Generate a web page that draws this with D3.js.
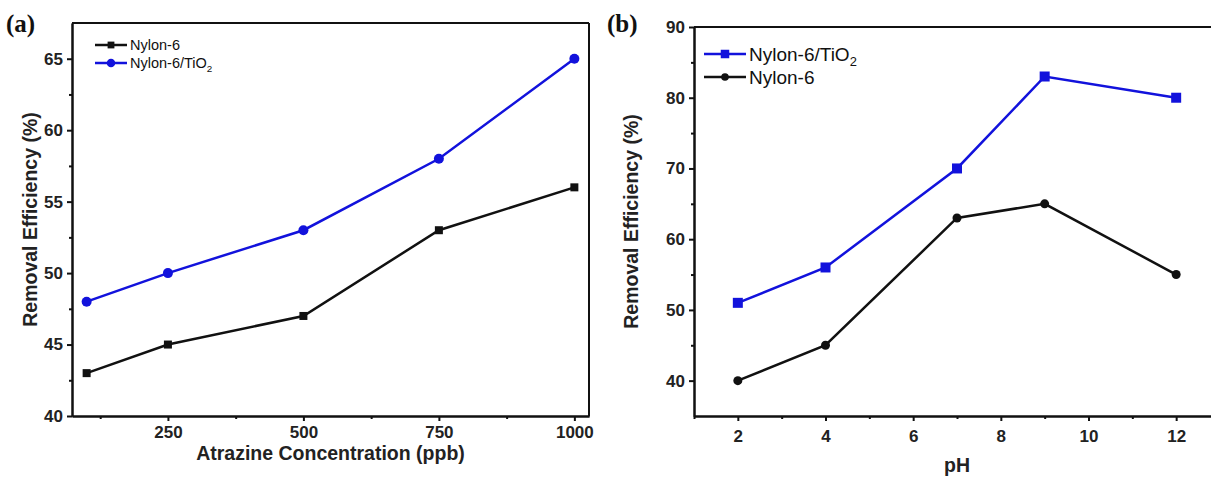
<!DOCTYPE html>
<html lang="en">
<head>
    <meta charset="UTF-8">
    <script src="https://d3js.org/d3.v7.min.js"></script>
    <style>
        body {margin: 0; background-color: #ffffff}
        svg {display: block; font-family: "Liberation Sans", Arial, sans-serif;}
    </style>
</head>
<body>
<svg class="chart"></svg>
<script type="text/javascript">
    // panel (a): removal vs atrazine concentration
    let conc = [100, 250, 500, 750, 1000];
    let nylon_a = [43, 45, 47, 53, 56];
    let tio2_a = [48, 50, 53, 58, 65];
    let conc_ticks = [250, 500, 750, 1000];
    let conc_minor = [125, 375, 625, 875];
    let eff_a_ticks = [40, 45, 50, 55, 60, 65];
    let eff_a_minor = [42.5, 47.5, 52.5, 57.5, 62.5];

    // panel (b): removal vs pH
    let ph = [2, 4, 7, 9, 12];
    let tio2_b = [51, 56, 70, 83, 80];
    let nylon_b = [40, 45, 63, 65, 55];
    let ph_ticks = [2, 4, 6, 8, 10, 12];
    let ph_minor = [1, 3, 5, 7, 9, 11];
    let eff_b_ticks = [40, 50, 60, 70, 80, 90];
    let eff_b_minor = [45, 55, 65, 75, 85];

    let blue = '#1212dc';
    let width = 1211, height = 477;

    var svg = d3.select('.chart').attr('width', width).attr('height', height);

    function label(g, x, y, parts, size) {
        let t = g.append('text').attr('x', x).attr('y', y)
            .attr('font-size', size).attr('fill', '#111');
        t.append('tspan').text(parts[0]);
        if (parts.length > 1) {
            t.append('tspan').attr('font-size', size * 0.68).attr('dy', size * 0.25).text(parts[1]);
        }
    }

    function marker(g, shape, x, y, size, color) {
        if (shape === 'square') {
            g.append('rect').attr('x', x - size / 2).attr('y', y - size / 2)
                .attr('width', size).attr('height', size).attr('fill', color);
        } else {
            g.append('circle').attr('cx', x).attr('cy', y).attr('r', size / 2).attr('fill', color);
        }
    }

    function panel(cfg) {
        let g = svg.append('g');
        let x = d3.scaleLinear().domain(cfg.xdom).range(cfg.xr);
        let y = d3.scaleLinear().domain(cfg.ydom).range(cfg.yr);

        // frame
        g.append('line').attr('x1', cfg.xr[0]).attr('x2', cfg.xr[1])
            .attr('y1', cfg.yr[1]).attr('y2', cfg.yr[1]).attr('stroke', '#111').attr('stroke-width', 2);
        g.append('line').attr('x1', cfg.xr[1]).attr('x2', cfg.xr[1])
            .attr('y1', cfg.yr[0]).attr('y2', cfg.yr[1]).attr('stroke', '#111').attr('stroke-width', 2);

        g.append('g').attr('transform', 'translate(0,' + cfg.yr[0] + ')')
            .call(d3.axisBottom(x).tickValues(cfg.xticks).tickFormat(d3.format('d'))
                .tickSize(5).tickSizeOuter(0).tickPadding(cfg.xpad));
        g.append('g').attr('transform', 'translate(0,' + cfg.yr[0] + ')')
            .call(d3.axisBottom(x).tickValues(cfg.xminor).tickSize(3).tickSizeOuter(0).tickFormat(''));
        g.append('g').attr('transform', 'translate(' + cfg.xr[0] + ',0)')
            .call(d3.axisLeft(y).tickValues(cfg.yticks).tickSize(5).tickSizeOuter(0).tickPadding(4));
        g.append('g').attr('transform', 'translate(' + cfg.xr[0] + ',0)')
            .call(d3.axisLeft(y).tickValues(cfg.yminor).tickSize(3).tickSizeOuter(0).tickFormat(''));

        g.selectAll('.domain').attr('stroke', '#111').attr('stroke-width', 2);
        g.selectAll('.tick line').attr('stroke', '#111').attr('stroke-width', 2);
        g.selectAll('.tick text').attr('font-size', 17).attr('font-weight', 'bold')
            .attr('fill', '#222').attr('font-family', '"Liberation Sans", Arial, sans-serif');

        // titles
        g.append('text').attr('x', (cfg.xr[0] + cfg.xr[1]) / 2).attr('y', cfg.xtitleY)
            .attr('text-anchor', 'middle').attr('font-size', 19.5).attr('font-weight', 'bold')
            .attr('fill', '#222').text(cfg.xtitle);
        g.append('text')
            .attr('transform', 'translate(' + cfg.ytitleX + ',' + ((cfg.yr[0] + cfg.yr[1]) / 2) + ') rotate(-90)')
            .attr('text-anchor', 'middle').attr('font-size', 19.5).attr('font-weight', 'bold')
            .attr('fill', '#222').text('Removal Efficiency (%)');
        g.append('text').attr('x', cfg.tagX).attr('y', 32)
            .attr('font-family', '"Liberation Serif", "Times New Roman", serif')
            .attr('font-size', 25).attr('font-weight', 'bold').attr('fill', '#111').text(cfg.tag);

        // series
        cfg.series.forEach(s => {
            let line = d3.line().x((d, i) => x(cfg.xs[i])).y(d => y(d));
            g.append('path').datum(s.values).attr('d', line)
                .attr('fill', 'none').attr('stroke', s.color).attr('stroke-width', 2.5);
            s.values.forEach((v, i) => marker(g, s.shape, x(cfg.xs[i]), y(v), s.size, s.color));
        });

        // legend
        cfg.series.forEach((s, i) => {
            let ly = cfg.legY + i * cfg.legStep;
            g.append('line').attr('x1', cfg.legX).attr('x2', cfg.legX + cfg.legLen)
                .attr('y1', ly).attr('y2', ly).attr('stroke', s.color).attr('stroke-width', 2.5);
            marker(g, s.shape, cfg.legX + cfg.legLen / 2, ly, s.size * 0.85, s.color);
            label(g, cfg.legX + cfg.legLen + 3, ly + cfg.legFont * 0.36, s.name, cfg.legFont);
        });
    }

    panel({
        xdom: [73, 1027], xr: [72, 589],
        ydom: [40, 67.5], yr: [416, 23],
        xs: conc, xticks: conc_ticks, xminor: conc_minor, xpad: 5,
        yticks: eff_a_ticks, yminor: eff_a_minor,
        xtitle: 'Atrazine Concentration (ppb)', xtitleY: 460, ytitleX: 37,
        tag: '(a)', tagX: 6,
        legX: 95, legY: 45, legStep: 18, legLen: 32, legFont: 14.5,
        series: [
            {name: ['Nylon-6'], values: nylon_a, color: '#111', shape: 'square', size: 8},
            {name: ['Nylon-6/TiO', '2'], values: tio2_a, color: blue, shape: 'circle', size: 10}
        ]
    });

    panel({
        xdom: [1, 13], xr: [694, 1220],
        ydom: [35, 90], yr: [416, 27],
        xs: ph, xticks: ph_ticks, xminor: ph_minor, xpad: 9,
        yticks: eff_b_ticks, yminor: eff_b_minor,
        xtitle: 'pH', xtitleY: 472, ytitleX: 638,
        tag: '(b)', tagX: 607,
        legX: 704, legY: 54, legStep: 23, legLen: 42, legFont: 19,
        series: [
            {name: ['Nylon-6/TiO', '2'], values: tio2_b, color: blue, shape: 'square', size: 10},
            {name: ['Nylon-6'], values: nylon_b, color: '#111', shape: 'circle', size: 9}
        ]
    });
</script>
</body>
</html>
